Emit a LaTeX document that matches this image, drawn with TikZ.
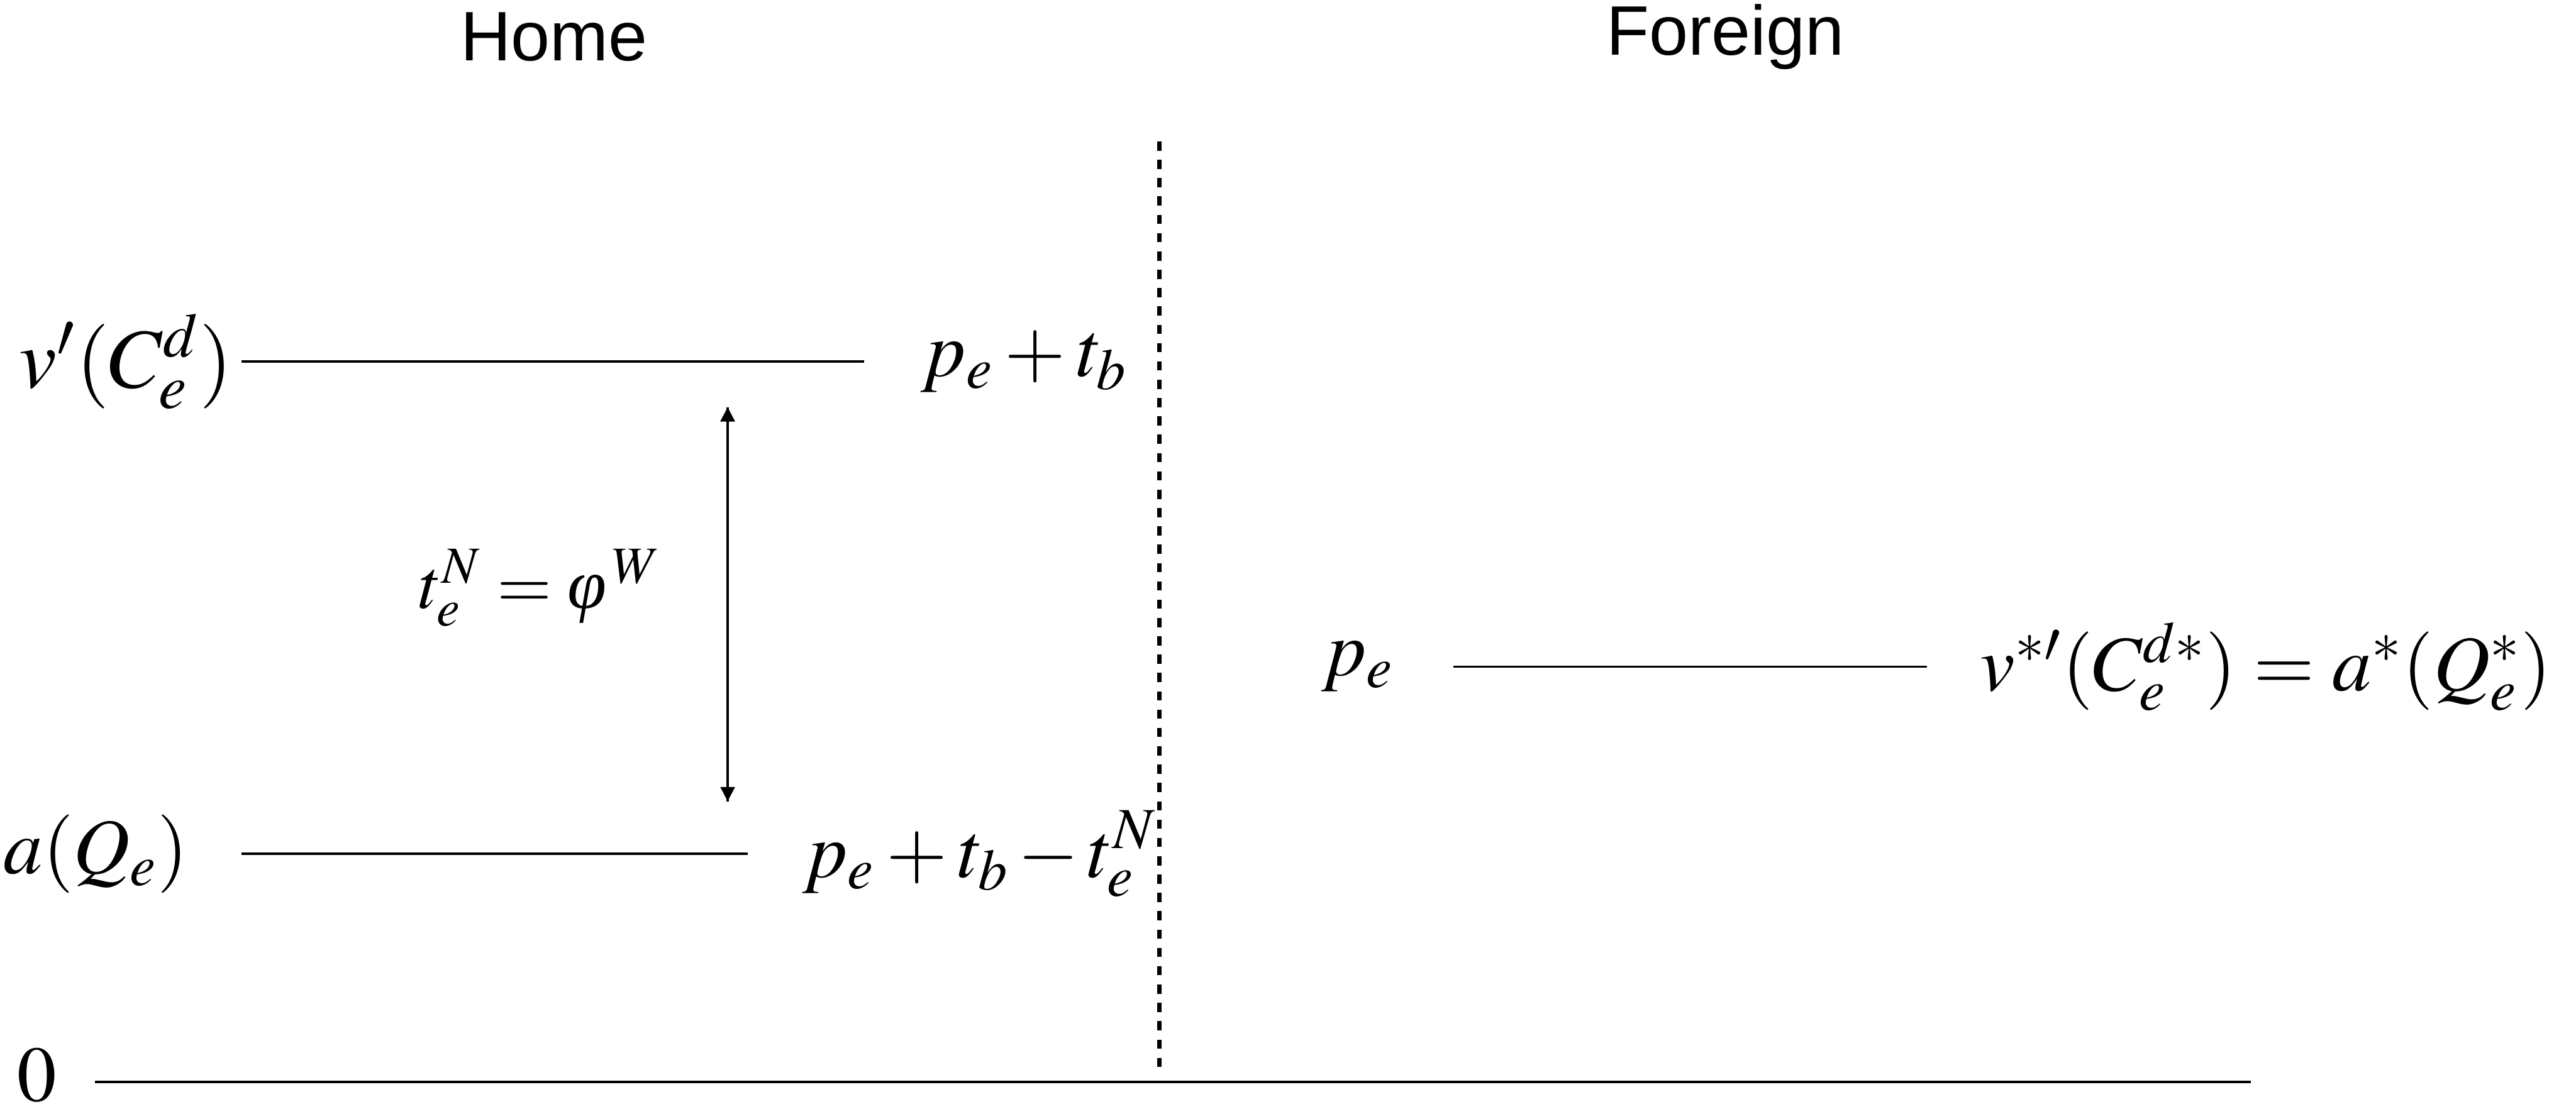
\documentclass[tikz,border=0pt]{standalone}
\usepackage{mathptmx}
\usepackage{fontspec}
\newfontfamily\headfont{Liberation Sans}
\newfontfamily\greekfont{Liberation Serif}
\usetikzlibrary{arrows.meta,positioning}

\begin{document}
\begin{tikzpicture}[
  head/.style={font=\headfont\fontsize{17.4}{20}\selectfont},
  mlab/.style={font=\fontsize{19.5}{23}\selectfont, inner sep=0pt},
  level/.style={line width=0.6pt},
  gap/.style={-{Triangle[length=1.25mm,width=1.25mm]}, line width=0.55pt},
  divide/.style={line width=1.1pt, dash pattern=on 0.8mm off 0.8mm}
]
  \useasboundingbox (0,0) rectangle (22.48,9.72);

  % headings
  \node[head] (home) at (4.835,9.40) {Home};
  \node[head] (foreign) at (15.055,9.40) {Foreign};

  % divider between countries
  \coordinate (dtop) at (10.12,8.485);
  \coordinate (dbot) at (10.12,0.40);
  \draw[divide] (dtop) -- (dbot);

  % home: upper level
  \coordinate (h1a) at (2.105,6.565);
  \coordinate (h1b) at (7.54,6.565);
  \node[mlab, left=0.07cm of h1a, font=\fontsize{21}{25}\selectfont] (vd) {$v'(C_e^d)$};
  \node[mlab, right=0.49cm of h1b] (pt) {$p_e+t_b$};
  \draw[level] (h1a) -- (h1b);

  % home: lower level
  \coordinate (h2a) at (2.105,2.265);
  \coordinate (h2b) at (6.525,2.265);
  \node[mlab, left=0.455cm of h2a] (aq) {$a(Q_e)$};
  \node[mlab, right=0.47cm of h2b] (ptn) {$p_e+t_b\mskip2mu{-}\mskip2mu t_e^N$};
  \draw[level] (h2a) -- (h2b);

  % wedge between the two levels
  \coordinate (wtop) at (6.35,6.165);
  \coordinate (wbot) at (6.35,2.725);
  \draw[gap] (wbot) -- (wtop);
  \draw[gap] (wtop) -- (wbot);
  \node[mlab, font=\fontsize{17.5}{21}\selectfont] (tn) at (4.715,4.59)
    {$t_e^N=\mbox{\greekfont\itshape φ}^{\,W}$};

  % foreign level
  \coordinate (f1a) at (12.685,3.90);
  \coordinate (f1b) at (16.815,3.90);
  \node[mlab, left=0.51cm of f1a] (pf) {$p_e$};
  \node[mlab, right=0.46cm of f1b] (vs) {$v^{*\prime}(C_e^{d*})=a^*(Q_e^*)$};
  \draw[level] (f1a) -- (f1b);

  % zero line
  \coordinate (za) at (0.83,0.275);
  \coordinate (zb) at (19.64,0.275);
  \node[mlab] (zero) at (0.32,0.33) {$0$};
  \draw[level] (za) -- (zb);
\end{tikzpicture}
\end{document}
